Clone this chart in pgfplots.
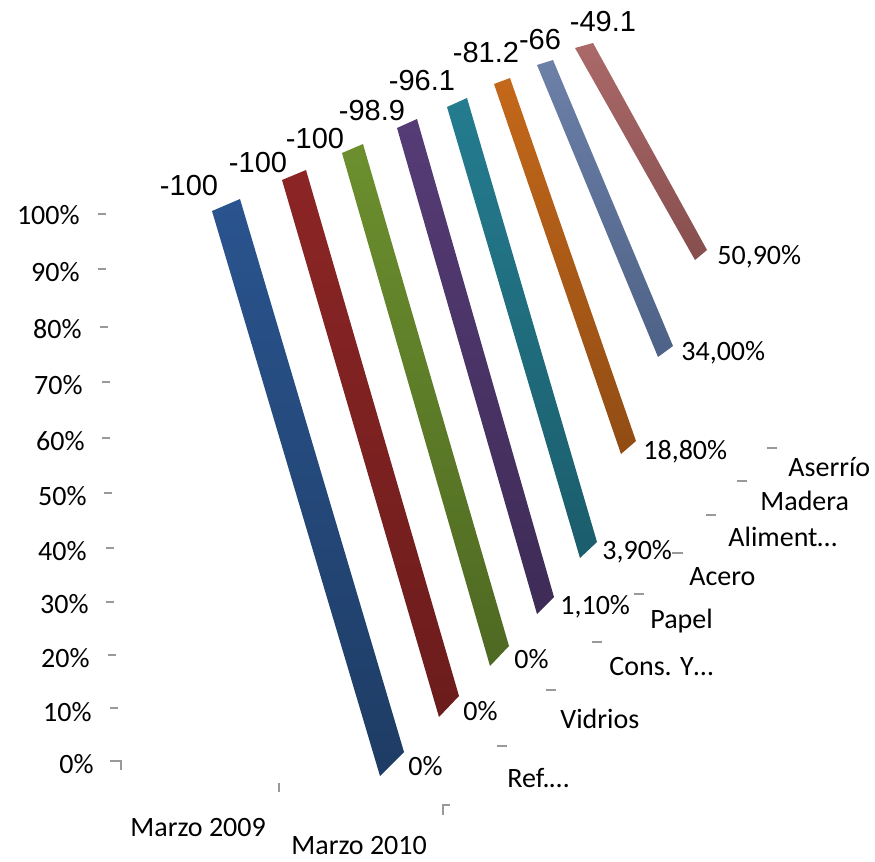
\documentclass[border=0pt]{standalone}
\usepackage{pgfplots}
\pgfplotsset{compat=1.18}
\usepackage{fontspec}
\setmainfont{Carlito}
\newfontfamily\arialf{Liberation Sans}
\definecolor{tk}{HTML}{999999}
\begin{document}
\begin{tikzpicture}
\begin{axis}[
  scale only axis, width=437.5pt, height=431pt,
  xmin=0, xmax=875, ymin=0, ymax=862, y dir=reverse,
  hide axis, clip=false,
]
\path (axis cs:0,0) rectangle (axis cs:875,862);
% bands (x,y in picture units): top-left, top-right, bottom-right, bottom-left
\addplot[draw=none, top color={rgb,255:red,171;green,105;blue,105}, bottom color={rgb,255:red,135;green,78;blue,78}] coordinates {(575,48) (593,43) (707,250) (695,260)} -- cycle;
\addplot[draw=none, top color={rgb,255:red,108;green,128;blue,168}, bottom color={rgb,255:red,78;green,97;blue,134}] coordinates {(537,65) (553,60) (673,346) (658,357)} -- cycle;
\addplot[draw=none, top color={rgb,255:red,196;green,104;blue,26}, bottom color={rgb,255:red,145;green,76;blue,20}] coordinates {(494,84) (510,78) (636,441) (621,454)} -- cycle;
\addplot[draw=none, top color={rgb,255:red,36;green,124;blue,143}, bottom color={rgb,255:red,27;green,93;blue,108}] coordinates {(447,107) (467,98) (597,542) (580,558)} -- cycle;
\addplot[draw=none, top color={rgb,255:red,86;green,60;blue,118}, bottom color={rgb,255:red,62;green,43;blue,86}] coordinates {(397,128) (417,119) (554,597) (537,614)} -- cycle;
\addplot[draw=none, top color={rgb,255:red,108;green,143;blue,46}, bottom color={rgb,255:red,78;green,105;blue,34}] coordinates {(342,153) (363,144) (509,646) (490,666)} -- cycle;
\addplot[draw=none, top color={rgb,255:red,140;green,37;blue,37}, bottom color={rgb,255:red,108;green,28;blue,28}] coordinates {(282,180) (306,170) (459,696) (439,717)} -- cycle;
\addplot[draw=none, top color={rgb,255:red,42;green,84;blue,143}, bottom color={rgb,255:red,30;green,60;blue,100}] coordinates {(212,211) (240,199) (404,752) (380,776)} -- cycle;
% small gray tick dashes
\addplot[tk, line width=1pt] coordinates {(98,214) (106,214)};
\addplot[tk, line width=1pt] coordinates {(98,269) (106,269)};
\addplot[tk, line width=1pt] coordinates {(100,327) (108,327)};
\addplot[tk, line width=1pt] coordinates {(102,382) (110,382)};
\addplot[tk, line width=1pt] coordinates {(102,438) (110,438)};
\addplot[tk, line width=1pt] coordinates {(104,493) (112,493)};
\addplot[tk, line width=1pt] coordinates {(106,548) (114,548)};
\addplot[tk, line width=1pt] coordinates {(106,602) (114,602)};
\addplot[tk, line width=1pt] coordinates {(108,655) (116,655)};
\addplot[tk, line width=1pt] coordinates {(110,708) (118,708)};
\addplot[tk, line width=1pt] coordinates {(110,761) (121,761) (121,770)};
\addplot[tk, line width=1pt] coordinates {(279,783) (279,792)};
\addplot[tk, line width=1pt] coordinates {(443,815) (443,805) (450,805)};
\addplot[tk, line width=1pt] coordinates {(497,746) (507,746)};
\addplot[tk, line width=1pt] coordinates {(546,690) (556,690)};
\addplot[tk, line width=1pt] coordinates {(592,642) (602,642)};
\addplot[tk, line width=1pt] coordinates {(634,594) (644,594)};
\addplot[tk, line width=1pt] coordinates {(672,553) (683,553)};
\addplot[tk, line width=1pt] coordinates {(706,515) (716,515)};
\addplot[tk, line width=1pt] coordinates {(737,481) (747,481)};
\addplot[tk, line width=1pt] coordinates {(767,448) (777,448)};
% value labels, Marzo 2009
\begin{scope}[every node/.style={font=\arialf\fontsize{14.5}{16}\selectfont, inner sep=0pt}]
\node at (axis cs:189,186) {-100};
\node at (axis cs:258,163) {-100};
\node at (axis cs:315,139) {-100};
\node at (axis cs:372,111) {-98.9};
\node at (axis cs:422,81) {-96.1};
\node at (axis cs:486,53) {-81.2};
\node at (axis cs:540,40) {-66};
\node at (axis cs:603,22) {-49.1};
\end{scope}
% value labels, Marzo 2010 and axis labels
\begin{scope}[every node/.style={font=\fontsize{14}{16}\selectfont, inner sep=0pt, anchor=west}]
\node at (axis cs:717,257) {50,90\%};
\node at (axis cs:681,353) {34,00\%};
\node at (axis cs:643,452) {18,80\%};
\node at (axis cs:602,552) {3,90\%};
\node at (axis cs:560,607) {1,10\%};
\node at (axis cs:514,659) {0\%};
\node at (axis cs:463,711) {0\%};
\node at (axis cs:408,766) {0\%};
\node at (axis cs:507,778) {Ref.…};
\node at (axis cs:560,719) {Vidrios};
\node at (axis cs:609,667) {Cons. Y…};
\node at (axis cs:650,621) {Papel};
\node at (axis cs:689,577) {Acero};
\node at (axis cs:728,537) {Aliment…};
\node at (axis cs:760,501) {Madera};
\node at (axis cs:788,467) {Aserrío};
\node at (axis cs:130,828) {Marzo 2009};
\node at (axis cs:291,846) {Marzo 2010};
\end{scope}
\begin{scope}[every node/.style={font=\fontsize{14}{16}\selectfont, inner sep=0pt, anchor=east}]
\node at (axis cs:80,215) {100\%};
\node at (axis cs:80,272) {90\%};
\node at (axis cs:82,329) {80\%};
\node at (axis cs:83,385) {70\%};
\node at (axis cs:85,441) {60\%};
\node at (axis cs:87,496) {50\%};
\node at (axis cs:87,551) {40\%};
\node at (axis cs:89,604) {30\%};
\node at (axis cs:90,658) {20\%};
\node at (axis cs:92,712) {10\%};
\node at (axis cs:94,764) {0\%};
\end{scope}
\end{axis}
\end{tikzpicture}
\end{document}
